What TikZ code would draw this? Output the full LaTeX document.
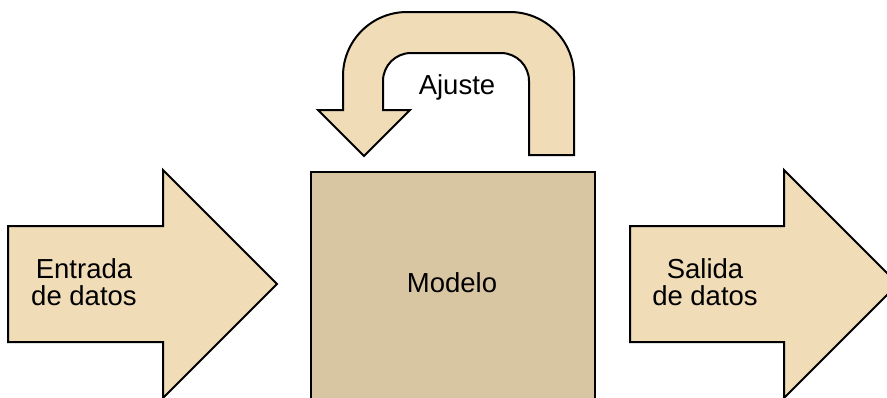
\documentclass[tikz,border=0pt]{standalone}
\usepackage{fontspec}
\setmainfont{Liberation Sans}
\definecolor{arrowfill}{HTML}{F0DCB7}
\definecolor{boxfill}{HTML}{D8C6A3}
\begin{document}
\begin{tikzpicture}[x=1pt,y=-1pt,
  shapeline/.style={draw=black,line width=2pt,line join=miter},
  arrowshape/.style={shapeline,fill=arrowfill},
  label/.style={font=\fontsize{27.5}{27.5}\selectfont,align=center,inner sep=0pt,text=black}]
\useasboundingbox (0,0) rectangle (887,397);
\clip (0,0) rectangle (887,397);

% incoming data arrow
\path[arrowshape] (8,226) -- (163,226) -- (163,170) -- (277,284)
  -- (163,398) -- (163,342) -- (8,342) -- cycle;
\node[label] (entrada) at (84,282) {Entrada\\de datos};

% model block
\node[shapeline,fill=boxfill,minimum width=284pt,minimum height=229pt,
  inner sep=0pt,anchor=north west] (modelo) at (310,171) {};
\node[label,anchor=base] (modelotxt) at (452,292) {Modelo};

% outgoing data arrow
\path[arrowshape] (630,226) -- (784,226) -- (784,170) -- (898,284)
  -- (784,398) -- (784,342) -- (630,342) -- cycle;
\node[label] (salida) at (705,282) {Salida\\de datos};

% feedback U-turn arrow
\path[arrowshape] (574,155) -- (574,76) arc[start angle=0,end angle=-90,radius=64]
  -- (407,12) arc[start angle=-90,end angle=-180,radius=64]
  -- (343,110) -- (318,110) -- (364,156) -- (410,110) -- (383,110)
  -- (383,81) arc[start angle=180,end angle=270,radius=28]
  -- (501,53) arc[start angle=-90,end angle=0,radius=28]
  -- (529,155) -- cycle;
\node[label,anchor=base] (ajuste) at (457,94) {Ajuste};
\end{tikzpicture}
\end{document}
